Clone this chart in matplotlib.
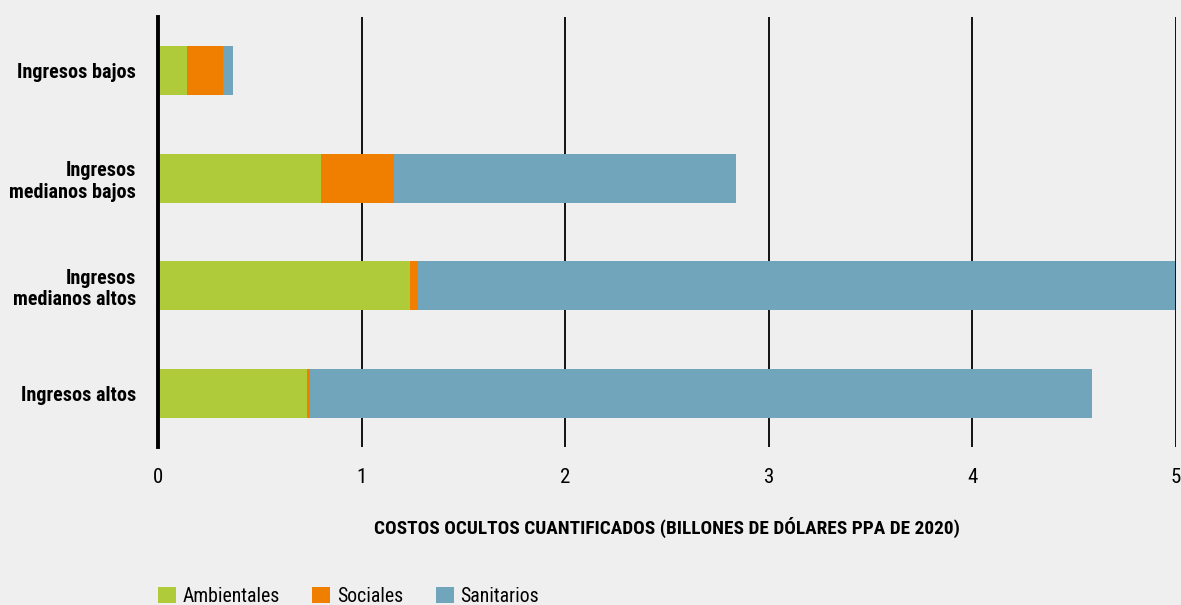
import numpy as np
import matplotlib.pyplot as plt
from matplotlib import font_manager

grupos = ['Ingresos bajos', 'Ingresos\nmedianos bajos', 'Ingresos\nmedianos altos', 'Ingresos altos']
ambientales = [0.14, 0.80, 1.24, 0.73]
sociales = [0.18, 0.36, 0.035, 0.017]
sanitarios = [0.05, 1.68, 3.72, 3.84]
xticks = [0, 1, 2, 3, 4, 5]

# buscar una fuente estrecha
fonts = font_manager.fontManager.ttflist
names = {f.name for f in fonts}
stretch = 'normal'
fam = ['DejaVu Sans']
for cand in ['Liberation Sans Narrow', 'Roboto Condensed', 'Open Sans Condensed', 'DejaVu Sans Condensed']:
    if cand in names:
        fam = [cand, 'DejaVu Sans']
        break
else:
    if any(f.name == 'DejaVu Sans' and f.stretch == 'condensed' for f in fonts):
        stretch = 'condensed'
plt.rcParams['font.family'] = fam
plt.rcParams['font.stretch'] = stretch
narrow = fam[0] != 'DejaVu Sans' or stretch == 'condensed'
fs = 14.5 if narrow else 12.5

bg = '#efefef'
fig = plt.figure(figsize=(11.81, 6.05), dpi=100, facecolor=bg)
ax = fig.add_axes([158 / 1181, 1 - 447 / 605, 1018 / 1181, 430 / 605], facecolor=bg)

y = np.arange(len(grupos))
h = 0.46
a = np.array(ambientales)
s = np.array(sociales)
b1 = ax.barh(y, a, height=h, color='#b0cb3a', label='Ambientales', zorder=3)
b2 = ax.barh(y, s, left=a, height=h, color='#f07f00', label='Sociales', zorder=3)
b3 = ax.barh(y, sanitarios, left=a + s, height=h, color='#70a5bb', label='Sanitarios', zorder=3)

ax.set_xlim(0, 5)
ax.set_ylim(3.5, -0.5)
ax.set_xticks(xticks)
ax.set_xticklabels([str(t) for t in xticks], fontsize=fs + 0.5)
ax.set_yticks(y)
ax.set_yticklabels(grupos, fontsize=fs, fontweight='bold', linespacing=1.15)
ax.tick_params(axis='both', length=0)
ax.tick_params(axis='x', pad=15)
ax.tick_params(axis='y', pad=16)
for xt in xticks[1:]:
    ax.axvline(xt, color='black', lw=1.3, zorder=2)
for sp in ['top', 'right', 'bottom']:
    ax.spines[sp].set_visible(False)
ax.spines['left'].set_linewidth(2.8)
ax.spines['left'].set_zorder(4)

fig.text(667 / 1181, 1 - 527 / 605, 'COSTOS OCULTOS CUANTIFICADOS (BILLONES DE DÓLARES PPA DE 2020)',
         ha='center', va='center', fontsize=fs - 0.6, fontweight='bold')

fig.legend(handles=[b1, b2, b3], loc='center left', bbox_to_anchor=(158 / 1181, 1 - 596 / 605),
           ncol=3, frameon=False, fontsize=fs - 0.3, handlelength=0.9, handleheight=0.9,
           handletextpad=0.35, columnspacing=1.65, borderaxespad=0, borderpad=0)

fig.savefig('out.png', dpi=100, facecolor=bg)
